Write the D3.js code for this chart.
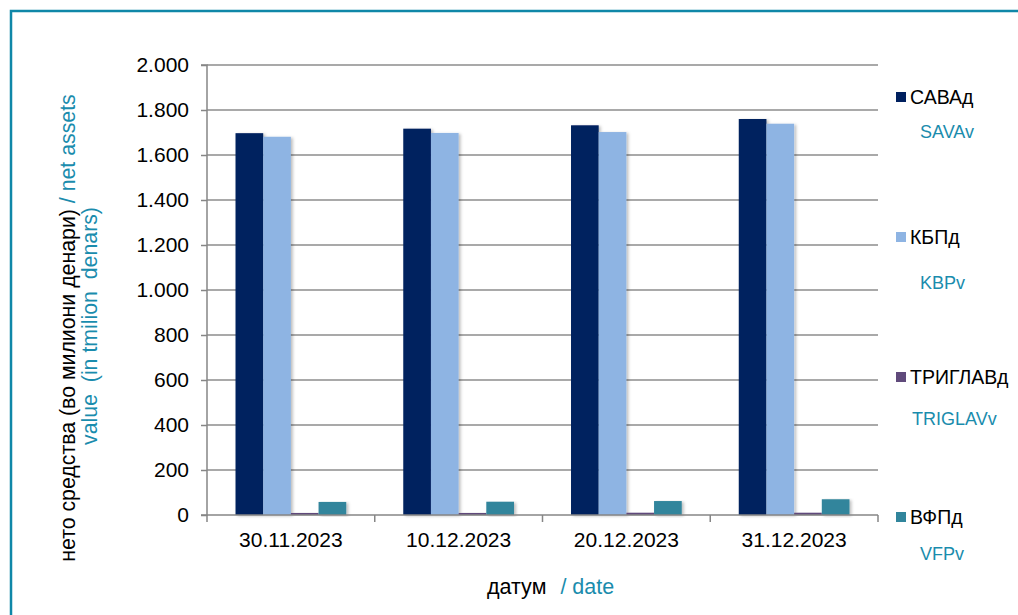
<!DOCTYPE html>
<html>
<head>
<meta charset="utf-8">
<script src="https://cdn.jsdelivr.net/npm/d3@7"></script>
<style>
  body { margin: 0; background: #fff; }
  text { font-family: "Liberation Sans", Arial, sans-serif; }
</style>
</head>
<body>
<div id="chart"></div>
<script>
// datumi / dates
const dates = ['30.11.2023', '10.12.2023', '20.12.2023', '31.12.2023'];
// fondovi
const funds = ['САВАд', 'КБПд', 'ТРИГЛАВд', 'ВФПд'];
const fundsEn = ['SAVAv', 'KBPv', 'TRIGLAVv', 'VFPv'];
// vrednosti po fond (milioni denari)
const sava = [1697, 1717, 1732, 1760];
const kbp = [1681, 1698, 1702, 1739];
const triglav = [9, 9, 10, 10];
const vfp = [58, 59, 62, 70];
const yTicks = [0, 200, 400, 600, 800, 1000, 1200, 1400, 1600, 1800, 2000];

const colors = ['#00205f', '#8eb4e3', '#604a7b', '#31859c'];
const teal = '#1a8cad';

const width = 1018;
const height = 615;
const plot = { left: 207, right: 878, top: 65, bottom: 515 };

const series = [sava, kbp, triglav, vfp];

const svg = d3.select('#chart')
  .append('svg')
  .attr('width', width)
  .attr('height', height);

// senka za stolbovite
const defs = svg.append('defs');
const filter = defs.append('filter')
  .attr('id', 'shadow')
  .attr('x', '-20%').attr('y', '-5%')
  .attr('width', '150%').attr('height', '120%');
filter.append('feDropShadow')
  .attr('dx', 2).attr('dy', 1)
  .attr('stdDeviation', 1.5)
  .attr('flood-color', '#000')
  .attr('flood-opacity', 0.25);

// ramka
svg.append('rect')
  .attr('x', 11).attr('y', 11)
  .attr('width', width + 20).attr('height', height + 20)
  .attr('fill', 'none')
  .attr('stroke', '#0f87a8')
  .attr('stroke-width', 2.5);

const x = d3.scaleBand()
  .domain(dates)
  .range([plot.left, plot.right])
  .paddingInner(0)
  .paddingOuter(0);

const xInner = d3.scaleBand()
  .domain(d3.range(funds.length))
  .range([0, x.bandwidth()])
  .paddingInner(0)
  .paddingOuter(1.03);

const y = d3.scaleLinear()
  .domain([0, 2000])
  .range([plot.bottom, plot.top]);

// mrezni linii
svg.append('g')
  .selectAll('line')
  .data(yTicks.filter(d => d > 0))
  .enter()
  .append('line')
  .attr('x1', plot.left)
  .attr('x2', plot.right)
  .attr('y1', d => y(d))
  .attr('y2', d => y(d))
  .attr('stroke', '#8c8c8c')
  .attr('stroke-width', 1.5);

// stolbovi
series.forEach((values, i) => {
  svg.append('g')
    .selectAll('rect')
    .data(values)
    .enter()
    .append('rect')
    .attr('x', (d, j) => x(dates[j]) + xInner(i))
    .attr('y', d => y(d))
    .attr('width', xInner.bandwidth())
    .attr('height', d => y(0) - y(d))
    .attr('fill', colors[i])
    .attr('filter', 'url(#shadow)');
});

// y oska
const yAxis = svg.append('g')
  .attr('transform', `translate(${plot.left},0)`)
  .call(d3.axisLeft(y)
    .tickValues(yTicks)
    .tickSize(6)
    .tickPadding(12)
    .tickFormat(d => d3.format(',')(d).replace(/,/g, '.')));
yAxis.selectAll('path, line').attr('stroke', '#868686').attr('stroke-width', 1.5);
yAxis.selectAll('text')
  .attr('font-size', 21)
  .attr('fill', '#000')
  .style('font-family', '"Liberation Sans", Arial, sans-serif');
yAxis.select('.domain').attr('d', `M-6,${plot.top}H0V${plot.bottom}H-6`);

// x oska
const xAxis = svg.append('g')
  .attr('transform', `translate(0,${plot.bottom})`)
  .call(d3.axisBottom(x).tickSize(0).tickPadding(17));
xAxis.select('.domain').remove();
xAxis.selectAll('text')
  .attr('font-size', 21)
  .attr('fill', '#000')
  .style('font-family', '"Liberation Sans", Arial, sans-serif');
xAxis.append('line')
  .attr('x1', plot.left).attr('x2', plot.right)
  .attr('y1', 0).attr('y2', 0)
  .attr('stroke', '#868686').attr('stroke-width', 1.5);
xAxis.selectAll('.sep')
  .data(dates.concat(['end']))
  .enter()
  .append('line')
  .attr('x1', (d, i) => i < dates.length ? x(d) : plot.right)
  .attr('x2', (d, i) => i < dates.length ? x(d) : plot.right)
  .attr('y1', 0).attr('y2', 7)
  .attr('stroke', '#868686').attr('stroke-width', 1.5);

// naslov na x oskata
const xTitle = svg.append('text')
  .attr('x', 487)
  .attr('y', 594)
  .attr('font-size', 21.5);
xTitle.append('tspan').attr('fill', '#000').text('датум ');
xTitle.append('tspan').attr('fill', teal).attr('dx', 8).text('/ date');

// naslov na y oskata
const yTitle1 = svg.append('text')
  .attr('transform', 'translate(75,328) rotate(-90)')
  .attr('text-anchor', 'middle')
  .attr('font-size', 21.3);
yTitle1.append('tspan').attr('fill', '#000').text('нето средства (во милиони денари) ');
yTitle1.append('tspan').attr('fill', teal).text('/ net assets');

svg.append('text')
  .attr('transform', 'translate(97,326) rotate(-90)')
  .attr('text-anchor', 'middle')
  .attr('font-size', 21.3)
  .attr('fill', teal)
  .attr('xml:space', 'preserve')
  .style('white-space', 'pre')
  .text('value  (in tmilion  denars)');

// legenda
const legendY = [97, 237, 377, 517];
const legendYEn = [131, 282, 418, 553];
const legendXEn = [920, 920, 912, 920];

const legend = svg.append('g').attr('class', 'legend');
funds.forEach((f, i) => {
  legend.append('rect')
    .attr('x', 896)
    .attr('y', legendY[i] - 5)
    .attr('width', 10)
    .attr('height', 10)
    .attr('fill', colors[i]);
  legend.append('text')
    .attr('x', 910)
    .attr('y', legendY[i] + 7)
    .attr('font-size', 19.5)
    .attr('fill', '#000')
    .text(f);
  legend.append('text')
    .attr('x', legendXEn[i])
    .attr('y', legendYEn[i] + 7)
    .attr('font-size', 18)
    .attr('fill', teal)
    .text(fundsEn[i]);
});
</script>
</body>
</html>
